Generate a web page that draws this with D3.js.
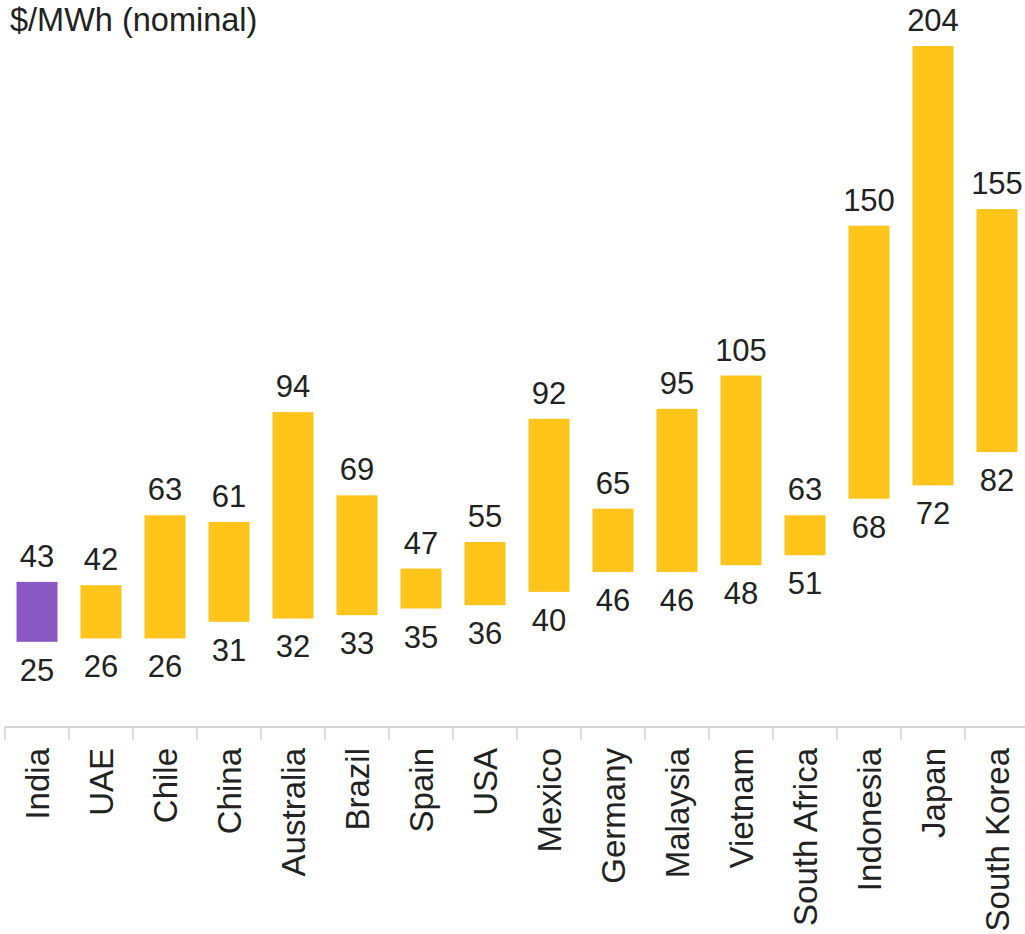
<!DOCTYPE html>
<html>
<head>
<meta charset="utf-8">
<script src="https://cdn.jsdelivr.net/npm/d3@7"></script>
<style>
  html, body { margin: 0; padding: 0; background: #fff; }
  svg { display: block; }
  text { font-family: "Liberation Sans", Arial, sans-serif; fill: #222; }
</style>
</head>
<body>
<svg id="chart" width="1025" height="934"></svg>
<script>
const countries = ["India","UAE","Chile","China","Australia","Brazil","Spain","USA","Mexico","Germany","Malaysia","Vietnam","South Africa","Indonesia","Japan","South Korea"];
const lowValues = [25,26,26,31,32,33,35,36,40,46,46,48,51,68,72,82];
const highValues = [43,42,63,61,94,69,47,55,92,65,95,105,63,150,204,155];
const unitLabel = "$/MWh (nominal)";
const highlight = "India";

const data = countries.map((c, i) => ({ country: c, low: lowValues[i], high: highValues[i] }));

const svg = d3.select("#chart");
const x = d3.scaleBand().domain(countries).range([5, 1029]).paddingInner(0.36).paddingOuter(0.18);
const y = d3.scaleLinear().domain([0, 204]).range([725, 46]);

const axisY = 727;

svg.append("text")
  .attr("x", 10).attr("y", 31)
  .style("font-size", "32.5px")
  .text(unitLabel);

// bars
svg.append("g").selectAll("rect").data(data).join("rect")
  .attr("x", d => x(d.country))
  .attr("width", x.bandwidth())
  .attr("y", d => y(d.high))
  .attr("height", d => y(d.low) - y(d.high))
  .attr("fill", d => d.country === highlight ? "#8a58c4" : "#fec41a");

// top labels
svg.append("g").selectAll("text").data(data).join("text")
  .attr("x", d => x(d.country) + x.bandwidth() / 2)
  .attr("y", d => y(d.high) - 15)
  .attr("text-anchor", "middle")
  .style("font-size", "31px")
  .text(d => d.high);

// bottom labels
svg.append("g").selectAll("text").data(data).join("text")
  .attr("x", d => x(d.country) + x.bandwidth() / 2)
  .attr("y", d => y(d.low) + 39)
  .attr("text-anchor", "middle")
  .style("font-size", "31px")
  .text(d => d.low);

// category axis
const axis = d3.axisBottom(x).tickSize(0).tickFormat("");
const gAxis = svg.append("g").attr("transform", `translate(0,${axisY})`).call(axis);
gAxis.select(".domain").remove();
gAxis.append("line").attr("x1", 5).attr("x2", 1025).attr("y1", 0).attr("y2", 0)
  .attr("stroke", "#c8c8c8").attr("stroke-width", 1.5);
const step = x.step();
const boundaries = d3.range(countries.length + 1).map(i => x.range()[0] + i * step);
gAxis.selectAll(".sep").data(boundaries).join("line").attr("class", "sep")
  .attr("x1", d => d).attr("x2", d => d).attr("y1", 0).attr("y2", 13)
  .attr("stroke", "#c8c8c8").attr("stroke-width", 1.2);

svg.append("g").selectAll("text").data(countries).join("text")
  .attr("transform", d => `translate(${x(d) + x.bandwidth() / 2},748) rotate(-90)`)
  .attr("text-anchor", "end")
  .attr("dy", "0.35em")
  .style("font-size", "33px")
  .text(d => d);
</script>
</body>
</html>
